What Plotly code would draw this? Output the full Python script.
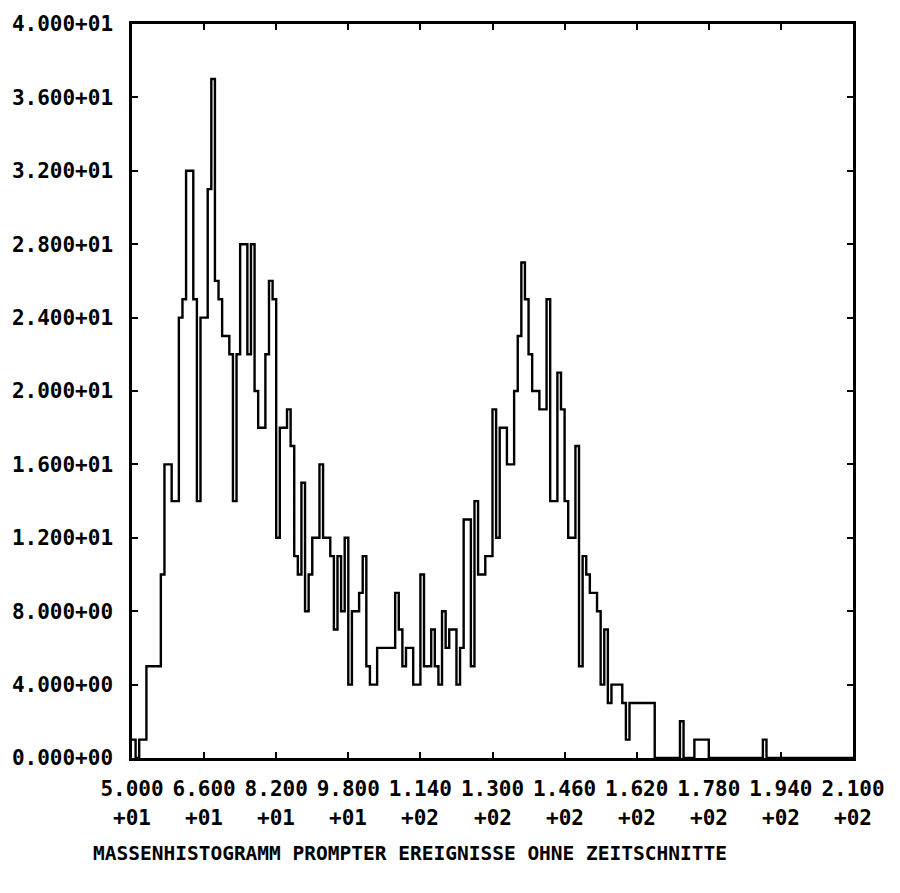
import plotly.graph_objects as go

# ---------------- data ----------------
bin_start = 50.0        # left edge of first channel (mass units)
bin_width = 0.8         # 200 channels from 50 to 210
counts = [
    1, 0, 1, 1, 5, 5, 5, 5, 10, 16,          # 50.0 - 58.0
    16, 14, 14, 24, 25, 32, 32, 25, 14, 24,  # 58.0 - 66.0
    24, 31, 37, 26, 25, 23, 23, 22, 14, 22,  # 66.0 - 74.0
    28, 28, 22, 28, 20, 18, 18, 22, 26, 25,  # 74.0 - 82.0
    12, 18, 18, 19, 17, 11, 10, 15, 8, 10,   # 82.0 - 90.0
    12, 12, 16, 12, 12, 11, 7, 11, 8, 12,    # 90.0 - 98.0
    4, 8, 8, 9, 11, 5, 4, 4, 6, 6,           # 98.0 - 106.0
    6, 6, 6, 9, 7, 5, 6, 6, 4, 4,            # 106.0 - 114.0
    10, 5, 5, 7, 5, 4, 8, 6, 7, 7,           # 114.0 - 122.0
    4, 6, 13, 13, 5, 14, 10, 10, 11, 11,     # 122.0 - 130.0
    19, 12, 18, 18, 16, 16, 20, 23, 27, 25,  # 130.0 - 138.0
    22, 20, 20, 19, 19, 25, 14, 14, 21, 19,  # 138.0 - 146.0
    14, 12, 12, 17, 5, 11, 10, 9, 9, 8,      # 146.0 - 154.0
    4, 7, 3, 4, 4, 4, 3, 1, 3, 3,            # 154.0 - 162.0
    3, 3, 3, 3, 3, 0, 0, 0, 0, 0,            # 162.0 - 170.0
    0, 0, 2, 0, 0, 0, 1, 1, 1, 1,            # 170.0 - 178.0
    0, 0, 0, 0, 0, 0, 0, 0, 0, 0,            # 178.0 - 186.0
    0, 0, 0, 0, 0, 1, 0, 0, 0, 0,            # 186.0 - 194.0
    0, 0, 0, 0, 0, 0, 0, 0, 0, 0,            # 194.0 - 202.0
    0, 0, 0, 0, 0, 0, 0, 0, 0, 0,            # 202.0 - 210.0
]

x_tick_vals = [50, 66, 82, 98, 114, 130, 146, 162, 178, 194, 210]
x_tick_mantissa = ["5.000", "6.600", "8.200", "9.800", "1.140", "1.300",
                   "1.460", "1.620", "1.780", "1.940", "2.100"]
x_tick_exponent = ["+01", "+01", "+01", "+01", "+02", "+02",
                   "+02", "+02", "+02", "+02", "+02"]

y_tick_vals = [0, 4, 8, 12, 16, 20, 24, 28, 32, 36, 40]
y_tick_text = ["0.000+00", "4.000+00", "8.000+00", "1.200+01", "1.600+01",
               "2.000+01", "2.400+01", "2.800+01", "3.200+01", "3.600+01",
               "4.000+01"]

title_text = "MASSENHISTOGRAMM PROMPTER EREIGNISSE OHNE ZEITSCHNITTE"

# ---------------- figure ----------------
edges = [bin_start + i * bin_width for i in range(len(counts) + 1)]
step_y = counts + [counts[-1]]

FONT = dict(family="DejaVu Sans Mono", size=21, color="black", weight="bold")

fig = go.Figure()
fig.add_trace(go.Scatter(
    x=edges, y=step_y, mode="lines",
    line=dict(shape="hv", color="black", width=2.4),
    hoverinfo="skip", showlegend=False,
))

axis_common = dict(
    showline=True, linecolor="black", linewidth=2.5, mirror="ticks",
    ticks="inside", ticklen=6, tickwidth=2, tickcolor="black",
    showgrid=False, zeroline=False, tickfont=FONT,
)

fig.update_xaxes(range=[50, 210], tickmode="array", tickvals=x_tick_vals,
                 ticktext=x_tick_mantissa, ticklabelstandoff=10, **axis_common)
fig.update_yaxes(range=[0, 40], tickmode="array", tickvals=y_tick_vals,
                 ticktext=y_tick_text, ticklabelstandoff=12, **axis_common)

for xv, ex in zip(x_tick_vals, x_tick_exponent):
    fig.add_annotation(x=xv, y=0, xref="x", yref="paper", text=ex,
                       showarrow=False, yanchor="middle", yshift=-60,
                       font=FONT)

fig.add_annotation(x=0.385, y=0, xref="paper", yref="paper", text=title_text,
                   showarrow=False, yanchor="middle", yshift=-95,
                   font=dict(FONT, size=19.5))

fig.update_layout(
    width=900, height=893,
    margin=dict(l=131, r=47, t=22, b=135),
    paper_bgcolor="white", plot_bgcolor="white",
)

fig.write_html("out.html")
